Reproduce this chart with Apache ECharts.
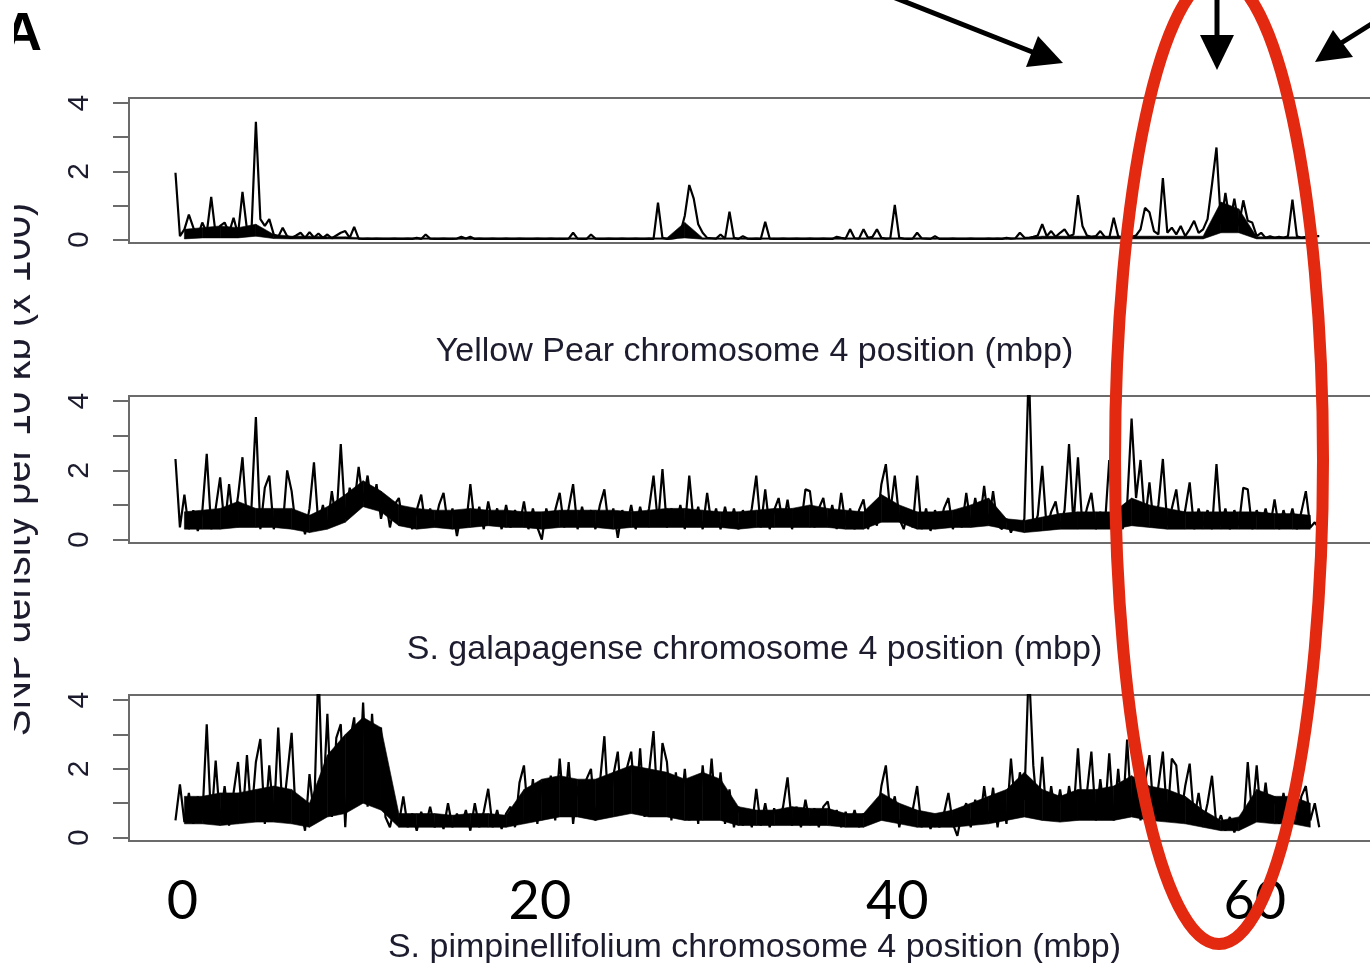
<!DOCTYPE html>
<html>
<head>
<meta charset="utf-8">
<title>SNP density, chromosome 4</title>
<script src="https://cdn.jsdelivr.net/npm/echarts@6/dist/echarts.min.js"></script>
<style>
  html, body { margin: 0; padding: 0; background: #fff; }
  #chart { width: 1370px; height: 963px; }
</style>
</head>
<body>
<div id="chart"></div>
<script>
// SNP density per 10 kb (x 100), one value per 0.25 mbp window
const windowSize = 0.25

const yellowPear = [
  1.96, 0.1, 0.3, 0.73, 0.35, 0.1, 0.5, 0.2, 1.25, 0.15, 0.4, 0.5, 0.2, 0.64, 0.15, 1.4,
  0.3, 0.2, 3.45, 0.6, 0.4, 0.6, 0.15, 0.08, 0.35, 0.1, 0.05, 0.12, 0.2, 0.05, 0.22, 0.06,
  0.18, 0.05, 0.15, 0.04, 0.12, 0.2, 0.25, 0.05, 0.37, 0.03, 0.02, 0.03, 0.02, 0.03, 0.02, 0.02,
  0.02, 0.03, 0.02, 0.02, 0.03, 0.02, 0.05, 0.02, 0.15, 0.03, 0.02, 0.02, 0.03, 0.02, 0.02, 0.03,
  0.08, 0.03, 0.08, 0.02, 0.03, 0.02, 0.02, 0.03, 0.02, 0.02, 0.03, 0.02, 0.02, 0.03, 0.02, 0.02,
  0.02, 0.03, 0.02, 0.02, 0.03, 0.02, 0.02, 0.02, 0.03, 0.2, 0.03, 0.02, 0.02, 0.15, 0.03, 0.02,
  0.02, 0.03, 0.02, 0.02, 0.03, 0.02, 0.02, 0.03, 0.02, 0.02, 0.03, 0.02, 1.08, 0.05, 0.02, 0.03,
  0.05, 0.2, 0.7, 1.6, 1.2, 0.45, 0.2, 0.05, 0.04, 0.03, 0.15, 0.03, 0.82, 0.05, 0.02, 0.1,
  0.03, 0.02, 0.03, 0.02, 0.52, 0.03, 0.02, 0.02, 0.03, 0.02, 0.02, 0.03, 0.02, 0.02, 0.03, 0.02,
  0.02, 0.03, 0.02, 0.02, 0.08, 0.05, 0.03, 0.3, 0.04, 0.03, 0.3, 0.05, 0.08, 0.3, 0.05, 0.03,
  0.04, 1.02, 0.05, 0.03, 0.02, 0.03, 0.2, 0.04, 0.03, 0.02, 0.1, 0.02, 0.02, 0.02, 0.03, 0.02,
  0.02, 0.02, 0.03, 0.02, 0.02, 0.02, 0.03, 0.02, 0.03, 0.02, 0.05, 0.03, 0.04, 0.2, 0.06, 0.05,
  0.08, 0.12, 0.45, 0.1, 0.25, 0.08, 0.2, 0.3, 0.1, 0.15, 1.3, 0.4, 0.12, 0.08, 0.1, 0.25,
  0.08, 0.05, 0.64, 0.1, 0.05, 0.15, 0.08, 0.12, 0.3, 0.93, 0.8, 0.25, 0.15, 1.8, 0.2, 0.35,
  0.15, 0.4, 0.1, 0.3, 0.55, 0.2, 0.3, 0.6, 1.62, 2.7, 0.45, 1.37, 0.5, 1.2, 0.4, 1.15,
  0.55, 0.5, 0.1, 0.2, 0.05, 0.1, 0.05, 0.08, 0.05, 0.1, 1.17, 0.1, 0.05, 0.08, 0.05, 0.1,
  0.1,
]

const galapagense = [
  2.33, 0.35, 1.3, 0.3, 0.85, 0.25, 0.8, 2.48, 0.3, 0.9, 1.8, 0.35, 1.6, 0.4, 1.25, 2.38,
  0.5, 0.9, 3.54, 0.3, 1.5, 1.85, 0.3, 0.8, 0.35, 2.0, 1.4, 0.3, 0.7, 0.15, 0.9, 2.23,
  0.4, 1.0, 0.35, 1.4, 0.5, 2.76, 0.6, 1.5, 1.0, 2.1, 1.1, 1.85, 0.9, 1.6, 0.6, 1.2,
  0.35, 1.0, 1.2, 0.4, 0.9, 0.3, 0.85, 1.3, 0.35, 0.9, 0.4, 1.0, 1.35, 0.4, 0.9, 0.1,
  0.8, 0.35, 1.6, 0.4, 0.95, 0.3, 1.1, 0.45, 0.9, 0.3, 1.0, 0.35, 0.85, 0.4, 1.1, 0.3,
  0.9, 0.35, 0.0, 0.9, 0.4, 0.85, 1.35, 0.35, 0.9, 1.6, 0.3, 0.95, 0.4, 0.85, 0.3, 1.0,
  1.45, 0.35, 0.9, 0.05, 0.85, 0.4, 1.0, 0.3, 0.95, 0.4, 0.9, 1.85, 0.45, 2.04, 0.35, 0.9,
  0.4, 1.0, 0.3, 1.85, 0.45, 0.95, 0.3, 1.35, 0.4, 0.9, 0.3, 0.95, 0.35, 0.9, 0.3, 0.85,
  0.4, 0.9, 1.85, 0.35, 1.45, 0.3, 0.85, 1.2, 0.4, 1.15, 0.3, 0.9, 0.4, 1.45, 1.4, 0.35,
  0.9, 1.2, 0.4, 1.0, 0.3, 1.35, 0.4, 0.9, 0.3, 0.85, 1.16, 0.3, 0.8, 0.4, 1.6, 2.18,
  0.8, 1.85, 0.6, 0.3, 0.85, 0.35, 1.85, 0.3, 0.9, 0.25, 0.85, 0.35, 0.9, 1.2, 0.3, 0.8,
  0.35, 1.35, 0.4, 1.2, 0.5, 1.55, 0.45, 1.4, 0.4, 0.3, 0.6, 0.2, 0.55, 0.25, 0.6, 5,
  0.3, 0.7, 2.13, 0.3, 0.8, 1.1, 0.35, 0.85, 2.76, 0.4, 2.38, 0.35, 0.9, 1.35, 0.3, 0.8,
  0.35, 2.3, 0.4, 0.9, 0.3, 1.0, 3.5, 1.2, 2.3, 0.5, 1.65, 0.35, 1.0, 2.33, 0.4, 0.9,
  1.45, 0.35, 0.85, 1.65, 0.3, 0.9, 0.4, 0.85, 0.3, 2.18, 0.4, 0.9, 0.3, 0.85, 0.4, 1.5,
  1.45, 0.3, 0.85, 0.4, 0.9, 0.35, 1.16, 0.3, 0.85, 0.4, 0.9, 0.3, 0.8, 1.4, 0.35, 0.5,
  0.3,
]

const pimpinellifolium = [
  0.5, 1.55, 0.45, 1.3, 0.4, 1.2, 0.5, 3.3, 0.4, 2.24, 0.45, 1.5, 0.35, 1.3, 2.2, 0.5,
  2.4, 0.6, 2.2, 2.87, 0.4, 2.1, 0.5, 3.2, 0.6, 1.8, 3.05, 0.4, 0.9, 0.2, 1.85, 0.6,
  5, 0.9, 3.6, 0.6, 2.9, 3.3, 0.3, 2.8, 3.5, 1.2, 3.93, 0.9, 3.6, 1.5, 3.2, 0.6,
  0.3, 0.9, 0.4, 1.2, 0.3, 0.7, 0.2, 0.75, 0.35, 0.9, 0.3, 0.65, 0.25, 1.0, 0.3, 0.7,
  0.35, 0.8, 0.2, 1.0, 0.3, 0.75, 1.42, 0.3, 0.8, 0.25, 0.7, 0.9, 0.3, 1.6, 2.1, 0.5,
  1.7, 0.4, 1.6, 0.6, 1.8, 0.5, 2.3, 0.7, 2.2, 0.4, 1.5, 0.6, 1.7, 2.0, 0.5, 1.6,
  2.95, 0.6, 1.8, 2.5, 0.7, 2.0, 2.5, 0.8, 2.6, 0.6, 1.9, 3.1, 0.7, 2.75, 2.2, 0.5,
  1.9, 0.6, 2.0, 0.5, 1.7, 0.4, 2.1, 0.7, 2.3, 0.6, 1.9, 0.4, 1.4, 0.3, 0.9, 0.35,
  0.8, 0.3, 1.42, 0.35, 1.0, 0.3, 0.85, 0.4, 0.9, 1.75, 0.35, 0.9, 0.3, 1.1, 0.4, 0.85,
  0.3, 0.9, 1.05, 0.35, 0.8, 0.3, 0.75, 0.35, 0.8, 0.3, 0.7, 0.4, 0.8, 0.5, 1.5, 2.1,
  0.7, 1.2, 0.3, 0.9, 0.4, 0.8, 1.5, 0.3, 0.7, 0.25, 0.65, 0.3, 0.7, 1.3, 0.4, 0.05,
  0.7, 1.0, 0.3, 1.1, 0.4, 1.5, 0.5, 1.45, 0.3, 1.2, 0.4, 2.3, 0.8, 1.9, 1.1, 5,
  2.1, 0.6, 2.35, 0.5, 1.5, 0.6, 1.4, 0.5, 1.5, 0.7, 2.6, 0.6, 1.3, 2.5, 0.5, 1.7,
  0.6, 2.45, 0.5, 2.0, 0.6, 2.85, 0.7, 1.9, 0.5, 1.6, 2.4, 0.6, 1.5, 2.5, 0.5, 2.3,
  2.1, 0.6, 1.5, 2.15, 0.5, 1.3, 0.4, 1.0, 1.8, 0.3, 0.65, 0.2, 0.6, 0.15, 0.55, 0.3,
  2.2, 0.6, 2.1, 0.5, 1.6, 0.5, 1.2, 0.4, 1.3, 0.5, 1.1, 0.4, 1.2, 1.5, 0.5, 1.0,
  0.3,
]

// the dense core of each trace: lower / upper edge per 1 mbp, centred on k + 0.5
const bandSize = 1

const yellowPearLow = [
  0.02, 0.05, 0.05, 0.05, 0.1, 0.03, 0.02, 0.02, 0.02, 0.02, 0.01, 0.01, 0.01, 0.01, 0.01, 0.01,
  0.01, 0.01, 0.01, 0.01, 0.01, 0.01, 0.01, 0.01, 0.01, 0.01, 0.01, 0.01, 0.05, 0.01, 0.01, 0.01,
  0.01, 0.01, 0.01, 0.01, 0.01, 0.01, 0.01, 0.01, 0.01, 0.01, 0.01, 0.01, 0.01, 0.01, 0.01, 0.01,
  0.02, 0.02, 0.02, 0.02, 0.02, 0.02, 0.02, 0.02, 0.02, 0.02, 0.2, 0.2, 0.02, 0.02, 0.02, 0.02,
]
const yellowPearHigh = [
  0.3, 0.35, 0.4, 0.35, 0.45, 0.15, 0.1, 0.1, 0.08, 0.08, 0.05, 0.05, 0.05, 0.05, 0.05, 0.05,
  0.05, 0.05, 0.05, 0.05, 0.05, 0.05, 0.05, 0.05, 0.05, 0.05, 0.05, 0.05, 0.5, 0.05, 0.05, 0.05,
  0.05, 0.05, 0.05, 0.05, 0.05, 0.05, 0.05, 0.05, 0.05, 0.05, 0.05, 0.05, 0.05, 0.05, 0.05, 0.05,
  0.1, 0.1, 0.1, 0.1, 0.1, 0.1, 0.1, 0.1, 0.1, 0.1, 1.1, 0.9, 0.08, 0.08, 0.08, 0.08,
]

const galapagenseLow = [
  0.3, 0.3, 0.3, 0.35, 0.35, 0.35, 0.3, 0.2, 0.3, 0.5, 0.95, 0.8, 0.4, 0.3, 0.35, 0.3,
  0.35, 0.4, 0.35, 0.35, 0.3, 0.35, 0.35, 0.35, 0.3, 0.35, 0.35, 0.35, 0.35, 0.35, 0.35, 0.3,
  0.35, 0.35, 0.35, 0.35, 0.35, 0.3, 0.3, 0.5, 0.5, 0.3, 0.3, 0.35, 0.35, 0.4, 0.3, 0.2,
  0.25, 0.3, 0.3, 0.3, 0.3, 0.4, 0.35, 0.3, 0.3, 0.3, 0.3, 0.3, 0.3, 0.3, 0.3, 0.3,
]
const galapagenseHigh = [
  0.8, 0.85, 0.9, 1.1, 0.9, 0.9, 0.9, 0.7, 0.95, 1.3, 1.7, 1.4, 1.0, 0.9, 0.85, 0.85,
  0.9, 0.85, 0.85, 0.8, 0.8, 0.85, 0.85, 0.85, 0.85, 0.8, 0.85, 0.9, 0.9, 0.85, 0.8, 0.8,
  0.85, 0.9, 0.9, 1.0, 0.9, 0.85, 0.8, 1.3, 1.0, 0.8, 0.8, 0.85, 1.0, 1.2, 0.6, 0.55,
  0.65, 0.75, 0.8, 0.8, 0.8, 1.2, 1.0, 0.9, 0.8, 0.8, 0.8, 0.8, 0.8, 0.75, 0.75, 0.7,
]

const pimpinellifoliumLow = [
  0.4, 0.4, 0.35, 0.4, 0.45, 0.45, 0.4, 0.3, 0.6, 0.7, 1.0, 0.8, 0.3, 0.3, 0.3, 0.3,
  0.3, 0.3, 0.3, 0.4, 0.5, 0.6, 0.6, 0.5, 0.6, 0.7, 0.6, 0.6, 0.5, 0.5, 0.5, 0.35,
  0.35, 0.35, 0.35, 0.35, 0.35, 0.3, 0.3, 0.5, 0.4, 0.3, 0.3, 0.3, 0.35, 0.4, 0.5, 0.6,
  0.5, 0.45, 0.5, 0.5, 0.5, 0.6, 0.5, 0.45, 0.4, 0.3, 0.2, 0.2, 0.45, 0.4, 0.4, 0.3,
]
const pimpinellifoliumHigh = [
  1.2, 1.2, 1.3, 1.3, 1.4, 1.5, 1.4, 1.0, 2.4, 3.0, 3.5, 3.2, 0.7, 0.7, 0.7, 0.65,
  0.7, 0.7, 0.65, 1.4, 1.7, 1.8, 1.7, 1.7, 1.9, 2.1, 2.0, 1.9, 1.7, 1.9, 1.7, 0.9,
  0.8, 0.8, 0.9, 0.85, 0.85, 0.7, 0.7, 1.3, 1.0, 0.8, 0.7, 0.8, 1.0, 1.2, 1.4, 1.9,
  1.4, 1.2, 1.4, 1.4, 1.5, 1.8, 1.5, 1.4, 1.2, 0.8, 0.5, 0.6, 1.4, 1.2, 1.2, 1.0,
]

const panelTitles = [
  'Yellow Pear chromosome 4 position (mbp)',
  'S. galapagense chromosome 4 position (mbp)',
  'S. pimpinellifolium chromosome 4 position (mbp)',
]
const positionTicks = [0, 20, 40, 60]
const densityTicks = [0, 1, 2, 3, 4]
const densityLabels = [0, 2, 4]
const yTitle = 'SNP density per 10 kb (x 100)'

const panels = [
  { top: 98, height: 145, titleGap: 92, values: yellowPear, low: yellowPearLow, high: yellowPearHigh },
  { top: 396, height: 147, titleGap: 90, values: galapagense, low: galapagenseLow, high: galapagenseHigh },
  { top: 695, height: 146, titleGap: 90, values: pimpinellifolium, low: pimpinellifoliumLow, high: pimpinellifoliumHigh },
]

const frameColor = '#6b6b6b'
const textColor = '#1c1c2e'
const annotationRed = '#e3290f'

function toPoints(values) {
  return values.map((v, i) => [i * windowSize, v])
}

// one item per gap between two band windows: [x0, low0, high0, x1, low1, high1]
function toBandSegments(low, high) {
  const out = []
  for (let k = 0; k < low.length - 1; k++) {
    out.push([(k + 0.5) * bandSize, low[k], high[k], (k + 1.5) * bandSize, low[k + 1], high[k + 1]])
  }
  return out
}

function renderBand(params, api) {
  const pts = [
    api.coord([api.value(0), api.value(1)]),
    api.coord([api.value(0), api.value(2)]),
    api.coord([api.value(3), api.value(5)]),
    api.coord([api.value(3), api.value(4)]),
  ]
  return {
    type: 'polygon',
    shape: { points: pts },
    style: { fill: '#000', stroke: '#000', lineWidth: 0.6 },
  }
}

function buildGrid(p) {
  return {
    left: 129,
    top: p.top,
    width: 1251,
    height: p.height,
    outerBoundsMode: 'none',
    containLabel: false,
    show: true,
    borderColor: frameColor,
    borderWidth: 2,
  }
}

function buildXAxis(p, i) {
  const last = i === panels.length - 1
  return {
    gridIndex: i,
    type: 'value',
    min: -2.6,
    max: 67.4,
    axisLine: { show: false, onZero: false },
    axisTick: { show: false },
    splitLine: { show: false },
    axisLabel: last
      ? {
          show: true,
          customValues: positionTicks,
          fontFamily: 'Lato, sans-serif',
          fontSize: 54,
          color: '#000',
          margin: 34,
          padding: [0, 0, 0, 14],
        }
      : { show: false },
    name: panelTitles[i],
    nameLocation: 'middle',
    nameGap: p.titleGap,
    nameTextStyle: {
      fontFamily: '"Liberation Sans", sans-serif',
      fontSize: 34,
      color: textColor,
    },
  }
}

function buildYAxis(p, i) {
  return {
    gridIndex: i,
    type: 'value',
    min: -0.1,
    max: 4.15,
    axisLine: { show: false, onZero: false },
    axisTick: {
      show: true,
      inside: false,
      customValues: densityTicks,
      length: 16,
      lineStyle: { color: frameColor, width: 2 },
    },
    axisLabel: {
      customValues: densityLabels,
      rotate: 90,
      margin: 34,
      fontFamily: '"Liberation Sans", sans-serif',
      fontSize: 30,
      color: textColor,
    },
    splitLine: { show: false },
    name: i === 1 ? yTitle : '',
    nameLocation: 'middle',
    nameGap: 90,
    nameTextStyle: {
      fontFamily: '"Liberation Sans", sans-serif',
      fontSize: 40,
      color: textColor,
    },
  }
}

function buildSeries(p, i) {
  return [
    {
      type: 'custom',
      xAxisIndex: i,
      yAxisIndex: i,
      data: toBandSegments(p.low, p.high),
      renderItem: renderBand,
      encode: { x: [0, 3], y: [1, 2, 4, 5] },
      silent: true,
      z: 1,
    },
    {
      type: 'line',
      xAxisIndex: i,
      yAxisIndex: i,
      data: toPoints(p.values),
      symbol: 'none',
      showSymbol: false,
      silent: true,
      clip: true,
      emphasis: { disabled: true },
      lineStyle: { color: '#000', width: 2.2 },
      z: 2,
    },
  ]
}

// hand-drawn annotations on top of the figure
function arrow(shaft, head) {
  return [
    { type: 'polyline', shape: { points: shaft }, style: { stroke: '#000', lineWidth: 5, fill: null }, z: 100 },
    { type: 'polygon', shape: { points: head }, style: { fill: '#000' }, z: 100 },
  ]
}

function buildGraphic() {
  return [
    ...arrow([[893, -3], [1040, 55]], [[1063, 63], [1038, 36], [1026, 67]]),
    ...arrow([[1217, -3], [1217, 45]], [[1217, 70], [1200, 35], [1234, 35]]),
    ...arrow([[1373, 23], [1338, 45]], [[1315, 62], [1333, 30], [1353, 57]]),
    {
      type: 'ellipse',
      shape: { cx: 1219, cy: 460, rx: 104, ry: 484 },
      style: { fill: null, stroke: annotationRed, lineWidth: 12 },
      z: 110,
    },
    {
      type: 'text',
      x: 3,
      y: 8,
      style: { text: 'A', font: 'bold 54px "Liberation Sans", sans-serif', fill: '#000' },
      z: 100,
    },
    // the source figure is cropped at its left edge
    { type: 'rect', shape: { x: 0, y: 0, width: 14, height: 963 }, style: { fill: '#fff' }, z: 120 },
  ]
}

const chart = echarts.init(document.getElementById('chart'), null, { renderer: 'canvas' })
chart.setOption({
  animation: false,
  backgroundColor: '#fff',
  grid: panels.map(buildGrid),
  xAxis: panels.map(buildXAxis),
  yAxis: panels.map(buildYAxis),
  series: panels.flatMap(buildSeries),
  graphic: buildGraphic(),
})
window.addEventListener('resize', () => chart.resize())
</script>
</body>
</html>
